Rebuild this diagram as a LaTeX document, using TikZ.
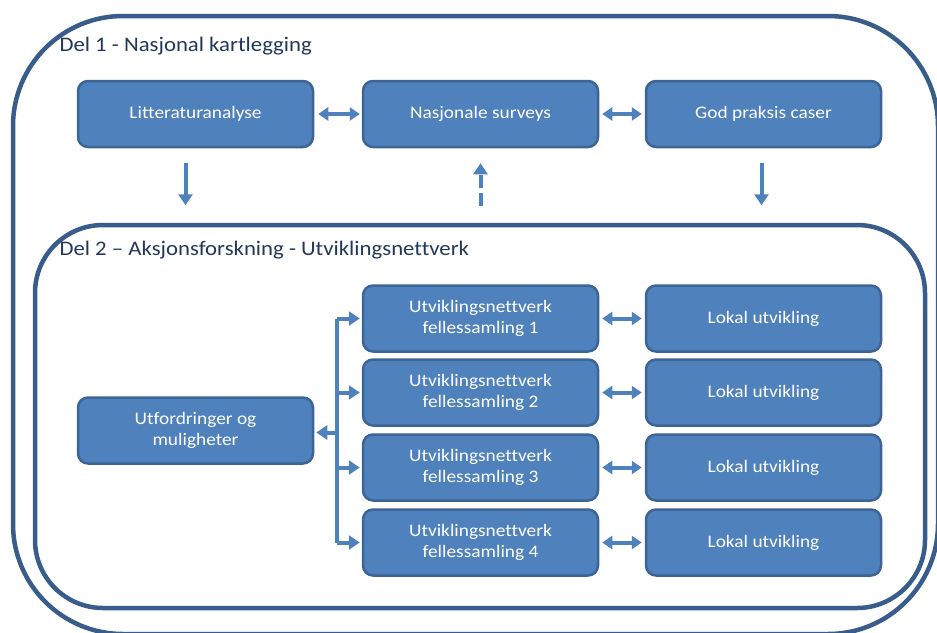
\documentclass[tikz,border=0pt]{standalone}
\usepackage{fontspec}
\setmainfont{Carlito}[FakeStretch=1.1, Ligatures=CommonOff]
\usetikzlibrary{arrows.meta}
\usetikzlibrary{calc}

\definecolor{boxblue}{HTML}{4F81BD}
\definecolor{boxline}{HTML}{3C6595}
\definecolor{framecol}{HTML}{385D8A}
\definecolor{titlecol}{HTML}{22385A}

\tikzset{
  box/.style={draw=boxline, line width=2.5pt, fill=boxblue, rounded corners=10pt,
    minimum width=235pt, minimum height=66pt, text=white, align=center,
    font=\fontsize{17.6}{21}\selectfont},
  frame/.style={draw=framecol, line width=4.5pt},
  title/.style={anchor=west, text=titlecol, font=\fontsize{20.7}{24}\selectfont},
  conn/.style={draw=boxblue, line width=4pt},
  tip/.style={-{Triangle[width=14pt,length=11pt]}},
  twotip/.style={{Triangle[width=13pt,length=10pt]}-{Triangle[width=13pt,length=10pt]}}
}

\begin{document}
\begin{tikzpicture}[x=1pt, y=-1pt]
\useasboundingbox (0,0) rectangle (937,632);

% Frames
\draw[frame, rounded corners=110pt] (13,16) rectangle (938,634);
\draw[frame, rounded corners=68pt] (35,225) rectangle (925,608);
\node[title] (del1) at (56,46) {Del 1 - Nasjonal kartlegging};
\node[title] (del2) at (56,250) {Del 2 – Aksjonsforskning - Utviklingsnettverk};

% Del 1
\node[box] (lit) at (195.5,114) {Litteraturanalyse};
\node[box] (nas) at (480.5,114) {Nasjonale surveys};
\node[box] (god) at (763.5,114) {God praksis caser};

\draw[conn, twotip, shorten <=4pt, shorten >=2pt] (lit.east) -- (nas.west);
\draw[conn, twotip, shorten <=3pt, shorten >=3pt] (nas.east) -- (god.west);

\draw[conn, tip] ($(lit.south)+(-10,15)$) -- ($(lit.south)+(-10,57)$);
\draw[conn, tip, dash pattern=on 13pt off 5pt] ($(nas.south)+(0,58)$) -- ($(nas.south)+(0,15)$);
\draw[conn, tip] ($(god.south)+(-2,15)$) -- ($(god.south)+(-2,57)$);

% Del 2
\node[box] (utf) at (195.5,430.5) {Utfordringer og\\muligheter};

\node[box] (u1) at (480.5,318.5) {Utviklingsnettverk\\fellessamling 1};
\node[box] (u2) at (480.5,392.5) {Utviklingsnettverk\\fellessamling 2};
\node[box] (u3) at (480.5,467.5) {Utviklingsnettverk\\fellessamling 3};
\node[box] (u4) at (480.5,542.5) {Utviklingsnettverk\\fellessamling 4};

\node[box] (l1) at (763.5,318.5) {Lokal utvikling};
\node[box] (l2) at (763.5,392.5) {Lokal utvikling};
\node[box] (l3) at (763.5,467.5) {Lokal utvikling};
\node[box] (l4) at (763.5,542.5) {Lokal utvikling};

\coordinate (bus) at (337,0);
\draw[conn] (u1.west -| bus) -- (u4.west -| bus);
\draw[conn, tip, shorten >=2pt] ($(utf.east -| bus)+(0,2)$) -- ($(utf.east)+(0,2)$);

\foreach \i in {1,...,4} {
  \draw[conn, tip, shorten >=2pt] (u\i.west -| bus) -- (u\i.west);
  \draw[conn, twotip, shorten <=3pt, shorten >=3pt] (u\i.east) -- (l\i.west);
}
\end{tikzpicture}
\end{document}
